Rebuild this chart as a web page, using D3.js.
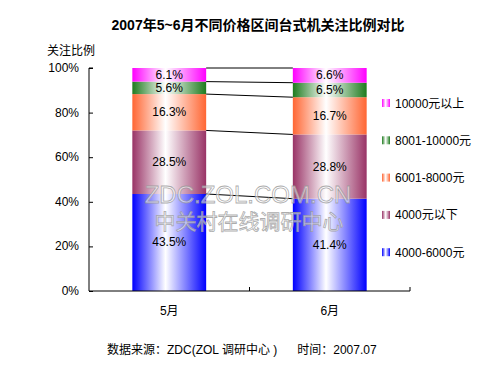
<!DOCTYPE html>
<html>
<head>
<meta charset="utf-8">
<script src="https://cdn.jsdelivr.net/npm/d3@7"></script>
<style>
  body { margin: 0; background: #fff; }
  svg { display: block; font-family: "Liberation Sans", Arial, "Noto Sans CJK SC", sans-serif; }
</style>
</head>
<body>
<svg id="chart" width="500" height="375"></svg>
<script>
/* data */
const months = ['5月', '6月'];
const seriesNames = ['4000-6000元', '4000元以下', '6001-8000元', '8001-10000元', '10000元以上'];
const seriesColors = ['#0000ff', '#993366', '#ff6633', '#1e7b1e', '#ff00ff'];
const may = [43.5, 28.5, 16.3, 5.6, 6.1];
const june = [41.4, 28.8, 16.7, 6.5, 6.6];
const yTicks = [0, 20, 40, 60, 80, 100];

const rows = months.map((m, i) => {
  const vals = i === 0 ? may : june;
  const r = { month: m };
  seriesNames.forEach((s, j) => r[s] = vals[j]);
  return r;
});

const svg = d3.select('#chart');
const plot = { left: 89, right: 410, top: 68, bottom: 291 };

const x = d3.scaleBand()
  .domain(months)
  .range([plot.left, plot.right])
  .paddingInner(0.54)
  .paddingOuter(0.27);

const y = d3.scaleLinear()
  .domain([0, 100])
  .range([plot.bottom, plot.top]);

const layers = d3.stack().keys(seriesNames)(rows);

/* gradients: coloured edges, white in the middle */
const defs = svg.append('defs');
seriesColors.forEach((c, i) => {
  const g = defs.append('linearGradient')
    .attr('id', 'g' + i)
    .attr('x1', '0%').attr('x2', '100%')
    .attr('y1', '0%').attr('y2', '0%');
  g.append('stop').attr('offset', '0%').attr('stop-color', c);
  g.append('stop').attr('offset', '45%').attr('stop-color', '#ffffff');
  g.append('stop').attr('offset', '100%').attr('stop-color', c);
});

/* title */
svg.append('text')
  .attr('x', 258).attr('y', 30)
  .attr('text-anchor', 'middle')
  .style('font-size', '14px')
  .style('font-weight', 'bold')
  .text('2007年5~6月不同价格区间台式机关注比例对比');

svg.append('text')
  .attr('x', 47).attr('y', 55)
  .style('font-size', '12px')
  .text('关注比例');

/* bars */
const barG = svg.append('g');
layers.forEach((layer, i) => {
  barG.selectAll(null)
    .data(layer)
    .join('rect')
    .attr('x', d => x(d.data.month))
    .attr('width', x.bandwidth())
    .attr('y', d => y(d[1]))
    .attr('height', d => y(d[0]) - y(d[1]))
    .attr('fill', `url(#g${i})`);
});

/* connector lines between bars */
const lineG = svg.append('g');
layers.forEach(layer => {
  const a = layer[0], b = layer[1];
  lineG.append('line')
    .attr('x1', x(a.data.month) + x.bandwidth())
    .attr('x2', x(b.data.month))
    .attr('y1', y(a[1]))
    .attr('y2', y(b[1]))
    .attr('stroke', '#000')
    .attr('stroke-width', 1);
});

/* watermark */
const wm = svg.append('g')
  .attr('fill', 'rgba(255,255,255,0.55)')
  .attr('stroke', 'rgba(150,150,150,0.8)')
  .attr('stroke-width', 0.8)
  .attr('text-anchor', 'middle');
wm.append('text')
  .attr('x', 248).attr('y', 203)
  .style('font-size', '24px')
  .text('ZDC.ZOL.COM.CN');
wm.append('text')
  .attr('x', 249).attr('y', 229)
  .style('font-size', '21px')
  .text('中关村在线调研中心');

/* value labels */
layers.forEach(layer => {
  svg.append('g').selectAll('text')
    .data(layer)
    .join('text')
    .attr('x', d => x(d.data.month) + x.bandwidth() / 2)
    .attr('y', d => y((d[0] + d[1]) / 2) + 4)
    .attr('text-anchor', 'middle')
    .style('font-size', '12px')
    .text(d => (d[1] - d[0]).toFixed(1) + '%');
});

/* y axis, ticks pointing inward */
const yAxis = svg.append('g')
  .attr('transform', `translate(${plot.left},0)`)
  .call(d3.axisRight(y).tickValues(yTicks).tickSize(4).tickFormat(''));
yAxis.select('.domain').attr('d', `M4,${plot.top}H0V${plot.bottom}`).attr('stroke', '#000');
yAxis.selectAll('.tick line').attr('stroke', '#000');

svg.append('g').selectAll('text')
  .data(yTicks)
  .join('text')
  .attr('x', 79)
  .attr('y', d => y(d) + 4)
  .attr('text-anchor', 'end')
  .style('font-size', '12px')
  .text(d => d + '%');

/* x axis */
const xAxis = svg.append('g')
  .attr('transform', `translate(0,${plot.bottom})`);
xAxis.append('path')
  .attr('d', `M${plot.left},0H${plot.right}V-4`)
  .attr('fill', 'none')
  .attr('stroke', '#000');
const mid = (x(months[0]) + x.bandwidth() + x(months[1])) / 2;
xAxis.append('line')
  .attr('x1', mid).attr('x2', mid)
  .attr('y1', 0).attr('y2', -4)
  .attr('stroke', '#000');
xAxis.selectAll('text')
  .data(months)
  .join('text')
  .attr('x', d => x(d) + x.bandwidth() / 2)
  .attr('y', 24)
  .attr('text-anchor', 'middle')
  .style('font-size', '12px')
  .text(d => d);

/* legend, top entry = top of stack */
const legendItems = seriesNames.map((s, i) => ({ name: s, i })).reverse();
const lg = svg.append('g').selectAll('g')
  .data(legendItems)
  .join('g')
  .attr('transform', (d, k) => `translate(382,${103 + k * 37.3})`);
lg.append('rect')
  .attr('x', 0).attr('y', -4)
  .attr('width', 8).attr('height', 8)
  .attr('fill', d => `url(#g${d.i})`);
lg.append('text')
  .attr('x', 13).attr('y', 4.5)
  .style('font-size', '12px')
  .text(d => d.name);

/* footer */
svg.append('text')
  .attr('x', 107).attr('y', 354)
  .style('font-size', '12px')
  .attr('xml:space', 'preserve')
  .text('数据来源：ZDC(ZOL 调研中心 )      时间：2007.07');
</script>
</body>
</html>
